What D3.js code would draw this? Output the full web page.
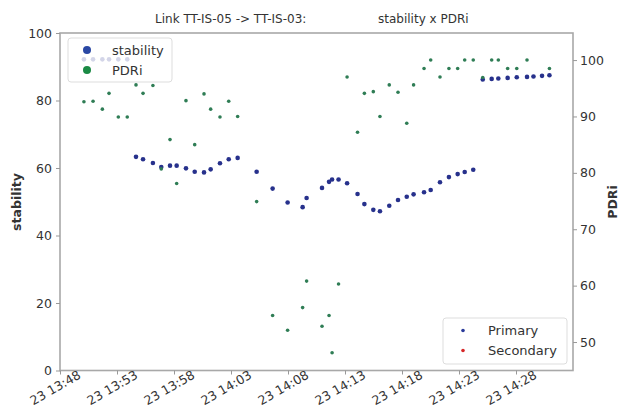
<!DOCTYPE html>
<html><head><meta charset="utf-8">
<script src="https://cdn.jsdelivr.net/npm/d3@7"></script>
<style>body{margin:0;background:#fff}svg{display:block}text{font-family:"DejaVu Sans",sans-serif;fill:#333}</style>
</head><body>
<script>
// --- data ---
const times = ["13:50:06","13:50:54","13:51:43","13:52:18","13:53:07","13:53:54",
 "13:54:40","13:55:17","13:56:09","13:56:53","13:57:39","13:58:14","13:59:03","13:59:49","14:00:38","14:01:13","14:02:02","14:02:48","14:03:35",
 "14:05:15","14:06:39","14:07:58","14:09:17","14:09:38","14:10:59","14:11:36","14:11:52","14:12:26","14:13:11","14:14:06","14:14:42","14:15:29",
 "14:16:04","14:16:53","14:17:39","14:18:25","14:19:01","14:19:56","14:20:31","14:21:20","14:22:07","14:22:53","14:23:30","14:24:15",
 "14:25:05","14:25:52","14:26:27","14:27:16","14:28:04","14:28:58","14:29:32","14:30:17","14:30:56"];
const stability = [92.2,92.2,92.2,92.2,92.2,92.2,
 63.3,62.6,61.5,60.3,60.7,60.7,59.9,58.9,58.7,59.6,61.4,62.6,63.0,
 58.9,53.9,49.8,48.4,51.1,54.1,55.9,56.6,56.6,55.5,52.3,49.3,47.6,
 47.2,48.8,50.5,51.5,52.2,52.8,53.5,55.8,57.3,58.2,58.8,59.5,
 86.2,86.4,86.5,86.7,86.9,87.0,87.1,87.3,87.5];
const pdri = [92.6,92.7,91.3,94.1,89.9,89.9,
 95.6,94.1,95.5,80.7,85.9,78.1,92.8,85.0,94.0,91.3,89.9,92.7,90.0,
 74.9,54.7,52.1,56.1,60.8,52.8,54.7,48.1,60.3,97.0,87.2,94.1,94.4,
 90.0,95.6,94.3,88.8,95.6,98.5,100,97.0,98.5,98.5,100,100,
 96.9,100,100,98.5,98.5,100,null,null,98.5];
const xTickLabels = ["23 13:48","23 13:53","23 13:58","23 14:03","23 14:08","23 14:13","23 14:18","23 14:23","23 14:28"];
const leftTicks = [0,20,40,60,80,100];
const rightTicks = [50,60,70,80,90,100];
const titleLeft = "Link TT-IS-05 -> TT-IS-03:";
const titleRight = "stability x PDRi";

// --- layout ---
const W=630,H=415, L=60,R=573,T=33,B=370.5;
const day = "2023-05-23T";
const parse = s => new Date(day+s);
const svg = d3.select("body").append("svg").attr("width",W).attr("height",H);
const x = d3.scaleTime().domain([parse("13:48:00"),parse("14:33:00")]).range([L,R]);
const yL = d3.scaleLinear().domain([0,100]).range([B,T]);
const yR = d3.scaleLinear().domain([44.95,104.8]).range([B,T]);
const xTicks = xTickLabels.map(s=>parse(s.slice(3)+":00"));

const blue="#27318c", green="#2f7d55";
const sdata = times.map((t,i)=>({t:parse(t),v:stability[i]})).filter(d=>d.v!=null);
const pdata = times.map((t,i)=>({t:parse(t),v:pdri[i]})).filter(d=>d.v!=null);

svg.append("g").selectAll("circle").data(sdata).join("circle")
  .attr("cx",d=>x(d.t)).attr("cy",d=>yL(d.v)).attr("r",2.3).attr("fill",blue);

// legend 1 (semi-transparent)
const lg = svg.append("g");
lg.append("rect").attr("x",68).attr("y",38).attr("width",104).attr("height",44).attr("rx",3)
  .attr("fill","#fff").attr("fill-opacity",0.8).attr("stroke","#ddd");
lg.append("circle").attr("cx",87).attr("cy",50).attr("r",4).attr("fill","#2a48a4");
lg.append("text").attr("x",112).attr("y",54.5).attr("font-size",13).text("stability");
lg.append("circle").attr("cx",87).attr("cy",70).attr("r",4).attr("fill","#1a8a45");
lg.append("text").attr("x",112).attr("y",74.5).attr("font-size",13).text("PDRi");

svg.append("g").selectAll("circle").data(pdata).join("circle")
  .attr("cx",d=>x(d.t)).attr("cy",d=>yR(d.v)).attr("r",1.8).attr("fill",green);

// frame
svg.append("rect").attr("x",L).attr("y",T).attr("width",R-L).attr("height",B-T)
  .attr("fill","none").attr("stroke","#a8a8a8").attr("stroke-width",1.6);

// axes
const axL = svg.append("g").attr("transform",`translate(${L},0)`)
  .call(d3.axisLeft(yL).tickValues(leftTicks).tickSize(4).tickPadding(4));
const axR = svg.append("g").attr("transform",`translate(${R},0)`)
  .call(d3.axisRight(yR).tickValues(rightTicks).tickSize(4).tickPadding(3));
const axB = svg.append("g").attr("transform",`translate(0,${B})`)
  .call(d3.axisBottom(x).tickValues(xTicks).tickSize(4).tickFormat((d,i)=>xTickLabels[i]));
[axL,axR,axB].forEach(a=>{a.select(".domain").remove();
  a.selectAll("line").attr("stroke","#999");
  a.selectAll("text").attr("font-size",12.5).attr("fill","#333").style("font-family","DejaVu Sans");});
axB.selectAll("text").attr("text-anchor","middle").attr("dy",0).attr("y",0)
  .attr("transform",function(){const t=d3.select(this.parentNode).attr("transform");return "translate(-3,21) rotate(-30)";});

// axis titles
svg.append("text").attr("transform","translate(21,202) rotate(-90)").attr("text-anchor","middle")
  .attr("font-size",12.5).attr("font-weight","bold").attr("fill","#111").text("stability");
svg.append("text").attr("transform","translate(617,202) rotate(-90)").attr("text-anchor","middle")
  .attr("font-size",12.5).attr("font-weight","bold").attr("fill","#111").text("PDRi");

// title
svg.append("text").attr("x",155).attr("y",23).attr("font-size",12).text(titleLeft);
svg.append("text").attr("x",378).attr("y",23).attr("font-size",12).text(titleRight);

// legend 2
const l2 = svg.append("g");
l2.append("rect").attr("x",443).attr("y",318).attr("width",124).attr("height",46).attr("rx",3)
  .attr("fill","#fff").attr("fill-opacity",0.8).attr("stroke","#ddd");
l2.append("circle").attr("cx",463).attr("cy",330.5).attr("r",1.8).attr("fill","#2a3a9a");
l2.append("text").attr("x",488).attr("y",335).attr("font-size",13).text("Primary");
l2.append("circle").attr("cx",463).attr("cy",350.5).attr("r",1.8).attr("fill","#d62728");
l2.append("text").attr("x",488).attr("y",355).attr("font-size",13).text("Secondary");
</script>
</body></html>
